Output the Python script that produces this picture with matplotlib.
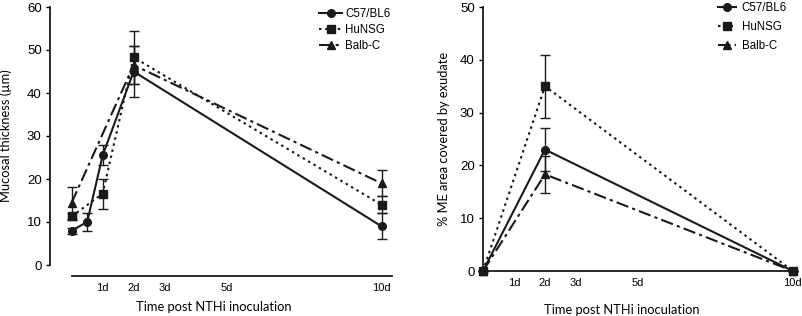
import matplotlib
matplotlib.use("Agg")
import matplotlib.pyplot as plt
from matplotlib.lines import Line2D

# ---- left panel: mucosal thickness ----
c57_days = [0, 0.5, 1, 2, 10]
c57_thick = [8, 10, 25.5, 45, 9]
c57_thick_err = [0.7, 2, 2.3, 6, 3]

hunsg_days = [0, 1, 2, 10]
hunsg_thick = [11.3, 16.6, 48.3, 14]
hunsg_thick_err = [0.8, 3.5, 6.2, 2]

balbc_days = [0, 2, 10]
balbc_thick = [14.5, 46.5, 19]
balbc_thick_err = [3.7, 4.5, 3]

# ---- right panel: exudate ----
exu_days = [0, 2, 10]
c57_exu = [0, 23, 0]
c57_exu_err = [0, 4, 0]
hunsg_exu = [0, 35, 0]
hunsg_exu_err = [0, 6, 0]
balbc_exu = [0, 18.3, 0]
balbc_exu_err = [0, 3.5, 0]

tick_days = [1, 2, 3, 5, 10]
tick_labels = ["1d", "2d", "3d", "5d", "10d"]

names = ["C57/BL6", "HuNSG", "Balb-C"]
styles = [
    dict(ls="-", marker="o"),
    dict(ls=(0, (1.2, 1.8)), marker="s"),
    dict(ls=(0, (6, 2, 1.5, 2)), marker="^"),
]
ink = "#1a1a1a"
label_font = ["Lato", "DejaVu Sans"]
plt.rcParams["font.family"] = ["Liberation Sans", "DejaVu Sans"]

fig = plt.figure(figsize=(8.03, 3.16), dpi=100)
ax1 = fig.add_axes([50 / 803, 1 - 265 / 316, 347 / 803, 258 / 316])
ax2 = fig.add_axes([483 / 803, 1 - 271 / 316, 313 / 803, 264 / 316])


def draw(ax, series):
    for st, (x, y, e) in zip(styles, series):
        ax.errorbar(x, y, yerr=e, color=ink, lw=1.5, linestyle=st["ls"],
                    marker=st["marker"], ms=5.5, elinewidth=1, capsize=3.5,
                    capthick=1, ecolor=ink, clip_on=False, zorder=3)


def add_legend(ax, left_px, top_px, spacing, hlen, hpad):
    handles = [Line2D([], [], color=ink, lw=1.5, linestyle=st["ls"], marker=st["marker"], ms=5.5)
               for st in styles]
    ax.legend(handles, names, loc="upper left", bbox_to_anchor=(left_px / 803, 1 - top_px / 316),
              bbox_transform=fig.transFigure, frameon=False, fontsize=8.3,
              handlelength=hlen, handletextpad=hpad, labelspacing=spacing,
              borderaxespad=0, borderpad=0)


draw(ax1, [(c57_days, c57_thick, c57_thick_err),
           (hunsg_days, hunsg_thick, hunsg_thick_err),
           (balbc_days, balbc_thick, balbc_thick_err)])
draw(ax2, [(exu_days, c57_exu, c57_exu_err),
           (exu_days, hunsg_exu, hunsg_exu_err),
           (exu_days, balbc_exu, balbc_exu_err)])

ax1.set_xlim(-0.7, 10.5)
ax1.set_ylim(0, 60)
ax1.set_yticks(range(0, 61, 10))
ax1.spines["bottom"].set_position(("outward", 8))
ax1.spines["bottom"].set_bounds(0, 10.35)
ax1.set_ylabel("Mucosal thickness (\u00b5m)", family=label_font, fontsize=9.3)
ax1.yaxis.set_label_coords(-0.11, 0.5)

ax2.set_xlim(0, 10.1)
ax2.set_ylim(0, 50)
ax2.set_yticks(range(0, 51, 10))
ax2.set_ylabel("% ME area covered by exudate", family=label_font, fontsize=9.3)
ax2.yaxis.set_label_coords(-0.105, 0.5)

for ax in (ax1, ax2):
    ax.spines["top"].set_visible(False)
    ax.spines["right"].set_visible(False)
    for side in ("left", "bottom"):
        ax.spines[side].set_linewidth(1.3)
        ax.spines[side].set_color(ink)
    ax.set_xticks(tick_days)
    ax.set_xticklabels(tick_labels, fontsize=8)
    ax.tick_params(axis="x", length=0, pad=5)
    ax.tick_params(axis="y", length=3, width=1, labelsize=9.5, pad=3)
    ax.patch.set_visible(False)

ax1.set_xlabel("Time post NTHi inoculation", family=label_font, fontsize=9.3)
ax2.set_xlabel("Time post NTHi inoculation", family=label_font, fontsize=9.3)
ax1.xaxis.set_label_coords(0.473, -0.14)
ax2.xaxis.set_label_coords(0.444, -0.125)

add_legend(ax1, 319, 8, 0.35, 2.0, 0.25)
add_legend(ax2, 718, 2, 0.6, 1.6, 0.45)

fig.savefig("out.png", dpi=100)
